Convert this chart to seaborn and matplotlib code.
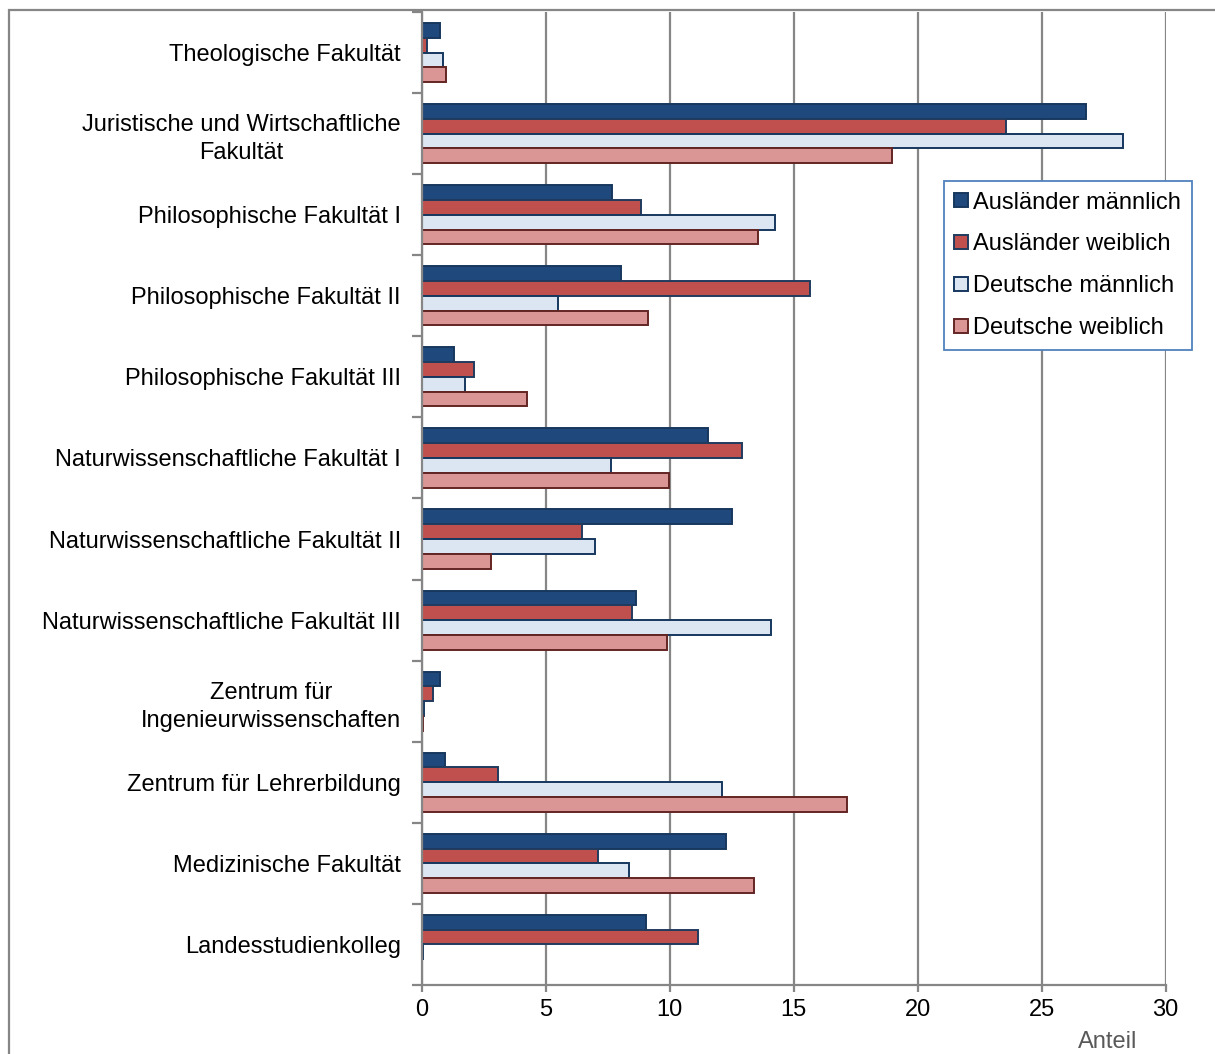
import matplotlib.pyplot as plt
import numpy as np
import pandas as pd
import seaborn as sns
from matplotlib.lines import Line2D
from matplotlib.patches import Rectangle

sns.set_style("white")
plt.rcParams["font.family"] = ["Liberation Sans", "DejaVu Sans"]
plt.rcParams["font.size"] = 17
plt.rcParams["text.color"] = "black"
plt.rcParams["xtick.color"] = "black"
plt.rcParams["ytick.color"] = "black"

# Daten (Anteil in %)
faculties = [
    "Theologische Fakultät",
    "Juristische und Wirtschaftliche\nFakultät",
    "Philosophische Fakultät I",
    "Philosophische Fakultät II",
    "Philosophische Fakultät III",
    "Naturwissenschaftliche Fakultät I",
    "Naturwissenschaftliche Fakultät II",
    "Naturwissenschaftliche Fakultät III",
    "Zentrum für\nIngenieurwissenschaften",
    "Zentrum für Lehrerbildung",
    "Medizinische Fakultät",
    "Landesstudienkolleg",
]
auslaender_m = [0.73, 26.8, 7.66, 8.06, 1.29, 11.53, 12.5, 8.63, 0.73, 0.93, 12.26, 9.03]
auslaender_w = [0.2, 23.55, 8.83, 15.68, 2.1, 12.9, 6.45, 8.47, 0.45, 3.1, 7.13, 11.13]
deutsche_m = [0.85, 28.3, 14.27, 5.52, 1.73, 7.62, 7.0, 14.1, 0.08, 12.1, 8.35, 0.07]
deutsche_w = [1.0, 18.95, 13.55, 9.11, 4.27, 9.96, 2.78, 9.88, 0.04, 17.14, 13.39, 0.03]

groups = ["Ausländer männlich", "Ausländer weiblich", "Deutsche männlich", "Deutsche weiblich"]
fill_colors = ["#1F497D", "#C0504D", "#DCE6F2", "#D99694"]
edge_colors = ["#17375E", "#1F3B5E", "#17375E", "#632523"]

df = pd.DataFrame(
    {
        "Fakultät": faculties * 4,
        "Gruppe": np.repeat(groups, len(faculties)),
        "Anteil": auslaender_m + auslaender_w + deutsche_m + deutsche_w,
    }
)

fig = plt.figure(figsize=(12.15, 10.54), dpi=100)
ax = fig.add_axes([0.347, 0.0655, 0.6123, 0.9231])

sns.barplot(
    data=df,
    y="Fakultät",
    x="Anteil",
    hue="Gruppe",
    hue_order=groups,
    order=faculties,
    orient="h",
    palette=dict(zip(groups, fill_colors)),
    saturation=1,
    width=0.73,
    legend=False,
    ax=ax,
)

for cont, ec in zip(ax.containers, edge_colors):
    for bar in cont:
        bar.set_edgecolor(ec)
        bar.set_linewidth(1.4)

grid_col = "#868686"
ax.set_xlim(0, 30)
ax.set_ylim(len(faculties) - 0.5, -0.5)
ax.set_xticks(range(0, 31, 5))
ax.xaxis.grid(True, color=grid_col, linewidth=1.6)
ax.set_axisbelow(True)
for side in ["top", "right"]:
    ax.spines[side].set_visible(False)
for side in ["left", "bottom"]:
    ax.spines[side].set_color(grid_col)
    ax.spines[side].set_linewidth(1.6)

# Kategorie-Trennstriche links
ax.set_yticks(np.arange(-0.5, len(faculties), 1.0), minor=True)
ax.tick_params(axis="y", which="minor", length=7, width=1.6, color=grid_col, left=True)
ax.tick_params(axis="y", which="major", length=0, pad=15, labelsize=17, labelcolor="black")
ax.tick_params(axis="x", which="major", length=5, width=1.6, color=grid_col, pad=5,
               labelsize=17, labelcolor="black", bottom=True)
for lbl in ax.get_yticklabels():
    lbl.set_multialignment("center")
    lbl.set_linespacing(1.35)

ax.set_ylabel("")
ax.set_xlabel("Anteil", color="#595959", fontsize=17)
ax.xaxis.set_label_coords(0.922, -0.0586)
ax.xaxis.label.set_va("center")

handles = [
    Line2D([], [], marker="s", linestyle="none", markersize=10,
           markerfacecolor=fc, markeredgecolor=ec, markeredgewidth=1.4)
    for fc, ec in zip(fill_colors, edge_colors)
]
leg = ax.legend(
    handles,
    groups,
    loc="upper left",
    bbox_to_anchor=(0.7016, 0.8263),
    borderaxespad=0,
    frameon=True,
    fancybox=False,
    framealpha=1,
    edgecolor="#4F81BD",
    fontsize=17,
    handlelength=0.6,
    handletextpad=0.2,
    labelspacing=0.84,
    borderpad=0.45,
)
leg.get_frame().set_linewidth(1.3)
for t in leg.get_texts():
    t.set_color("black")

# äußerer Rahmen
fig.add_artist(
    Rectangle((9 / 1215, -0.05), 1.2, 1 - 10 / 1054 + 0.05, transform=fig.transFigure,
              fill=False, edgecolor=grid_col, linewidth=1.6)
)

fig.savefig("out.png", dpi=100)
